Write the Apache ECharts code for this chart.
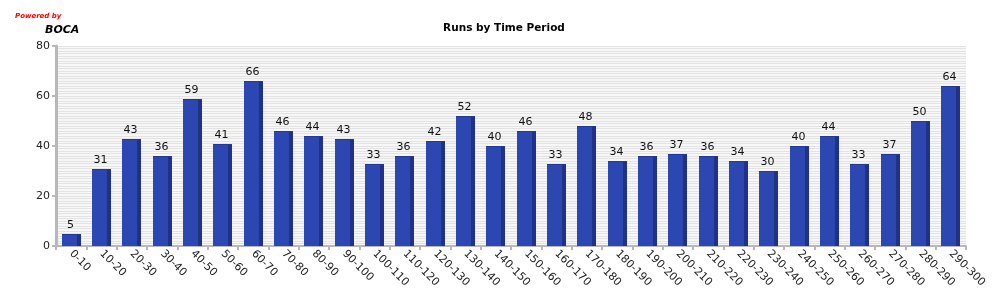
<!DOCTYPE html>
<html><head><meta charset="utf-8">
<script src="https://cdn.jsdelivr.net/npm/echarts@6/dist/echarts.min.js"></script>
<style>html,body{margin:0;padding:0;background:#fff}#c{width:1000px;height:300px}</style>
</head><body><div id="c"></div>
<script>
const categories = ["0-10","10-20","20-30","30-40","40-50","50-60","60-70","70-80","80-90","90-100","100-110","110-120","120-130","130-140","140-150","150-160","160-170","170-180","180-190","190-200","200-210","210-220","220-230","230-240","240-250","250-260","260-270","270-280","280-290","290-300"];
const runs = [5,31,43,36,59,41,66,46,44,43,33,36,42,52,40,46,33,48,34,36,37,36,34,30,40,44,33,37,50,64];
const yTicks = [0,20,40,60,80];
const title = "Runs by Time Period";

const chart = echarts.init(document.getElementById('c'), null, {renderer:'canvas'});
const font = 'DejaVu Sans';
chart.setOption({
  animation:false,
  backgroundColor:'#fff',
  title:[
    {text:title,left:499,top:18,textAlign:'center',textStyle:{fontFamily:font,fontSize:10.5,fontWeight:'bold',color:'#000'}},
    {text:'Powered by',left:10,top:8,textStyle:{fontFamily:font,fontSize:7,fontStyle:'italic',fontWeight:'bold',color:'#ff0000'}},
    {text:'BOCA',left:40,top:20,textStyle:{fontFamily:font,fontSize:11,fontStyle:'italic',fontWeight:'bold',color:'#000'}}
  ],
  grid:{left:56,right:34,top:46,bottom:54,show:true,backgroundColor:'#f7f7f7',borderWidth:0},
  xAxis:{type:'category',data:categories,
    axisLine:{lineStyle:{color:'#b8b8b8',width:2}},
    axisTick:{show:true,length:4,lineStyle:{color:'#b8b8b8',width:2}},
    axisLabel:{rotate:-45,fontFamily:font,fontSize:11,color:'#222',margin:6,interval:0}},
  yAxis:[{type:'value',min:0,max:80,interval:20,
    axisLine:{show:true,lineStyle:{color:'#b8b8b8',width:3}},
    axisTick:{show:true,length:4,lineStyle:{color:'#b8b8b8',width:2}},
    axisLabel:{fontFamily:font,fontSize:11,color:'#222',margin:6,customValues:yTicks},
    splitLine:{show:false}},
   {type:'value',min:0,max:80,interval:1,show:true,position:'left',
    axisLine:{show:false},axisTick:{show:false},axisLabel:{show:false},
    splitLine:{show:true,lineStyle:{color:'#e3e3e3',width:1}}}],
  series:[{type:'custom',yAxisIndex:0,data:runs.map((v,i)=>[i,v]),
    renderItem:function(params,api){
      const i=api.value(0),v=api.value(1);
      const top=api.coord([i,v]);const base=api.coord([i,0]);
      const cx=top[0];
      const fx=Math.round(cx-9.5),fw=15,sw=4;
      const y0=Math.round(top[1]),h=Math.round(base[1])-y0;
      return {type:'group',children:[
        {type:'rect',shape:{x:fx,y:y0,width:fw,height:h},style:{fill:'#2c46b2'}},
        {type:'rect',shape:{x:fx+fw,y:y0,width:sw,height:h},style:{fill:'#1f3288'}},
        {type:'rect',shape:{x:fx,y:y0,width:fw+sw,height:1},style:{fill:'#22389a'}},
        {type:'text',style:{text:String(v),x:fx+fw/2+1,y:y0-3,align:'center',verticalAlign:'bottom',fontFamily:font,fontSize:11,fill:'#111'}}
      ]};
    }}]
});
</script></body></html>
